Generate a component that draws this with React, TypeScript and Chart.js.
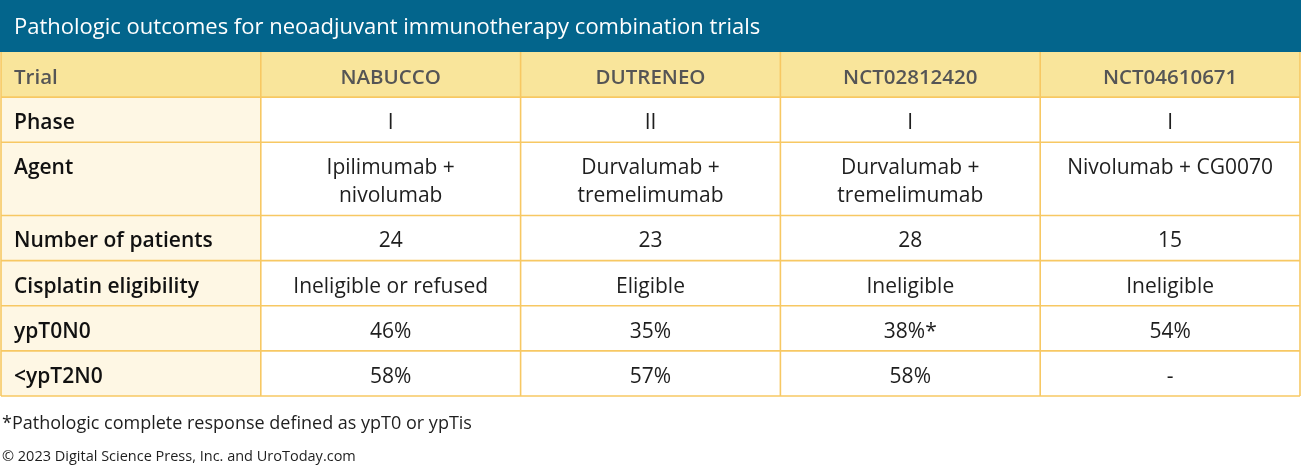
import React, { useEffect, useRef } from "react";
import { Chart, registerables } from "chart.js";

Chart.register(...registerables);

const titleText = "Pathologic outcomes for neoadjuvant immunotherapy combination trials";
const cornerLabel = "Trial";
const trials = ["NABUCCO", "DUTRENEO", "NCT02812420", "NCT04610671"];
const rowLabels = ["Phase", "Agent", "Number of patients", "Cisplatin eligibility", "ypT0N0", "<ypT2N0"];
const phases = ["I", "II", "I", "I"];
const agents = [["Ipilimumab +", "nivolumab"], ["Durvalumab +", "tremelimumab"], ["Durvalumab +", "tremelimumab"], ["Nivolumab + CG0070"]];
const patients = [24, 23, 28, 15];
const cisplatin = ["Ineligible or refused", "Eligible", "Ineligible", "Ineligible"];
const ypT0N0 = ["46%", "35%", "38%*", "54%"];
const ypT2N0 = ["58%", "57%", "58%", "-"];
const footnote = "*Pathologic complete response defined as ypT0 or ypTis";
const copyright = "\u00a9 2023 Digital Science Press, Inc. and UroToday.com";

const FONT = "'Open Sans', 'Noto Sans', sans-serif";

function buildRows(): string[][][] {
  const rows: string[][][] = [];
  rows.push([[cornerLabel], ...trials.map((t) => [t])]);
  rows.push([[rowLabels[0]], ...phases.map((p) => [p])]);
  rows.push([[rowLabels[1]], ...agents]);
  rows.push([[rowLabels[2]], ...patients.map((n) => [String(n)])]);
  rows.push([[rowLabels[3]], ...cisplatin.map((c) => [c])]);
  rows.push([[rowLabels[4]], ...ypT0N0.map((c) => [c])]);
  rows.push([[rowLabels[5]], ...ypT2N0.map((c) => [c])]);
  return rows;
}

const rows = buildRows();
const rowWeights = rows.map((r) => 1 + (Math.max(...r.map((c) => c.length)) - 1) * 0.622);
const rowBounds: number[] = [0];
rowWeights.forEach((w, i) => rowBounds.push(rowBounds[i] + w));
const nCols = trials.length + 1;

const tablePlugin = {
  id: "tableDraw",
  beforeDraw(chart: any) {
    const ctx = chart.ctx as CanvasRenderingContext2D;
    const xs = chart.scales.x;
    const ys = chart.scales.y;
    ctx.save();
    ctx.fillStyle = "#ffffff";
    ctx.fillRect(0, 0, chart.width, chart.height);

    const x0 = xs.getPixelForValue(0);
    const x1 = xs.getPixelForValue(nCols);
    const yTop = ys.getPixelForValue(0);
    const yBot = ys.getPixelForValue(rowBounds[rowBounds.length - 1]);

    // title bar
    ctx.fillStyle = "#03658c";
    ctx.fillRect(0, 0, x1 + 1, yTop);
    ctx.fillStyle = "#ffffff";
    ctx.font = `500 22px ${FONT}`;
    ctx.textBaseline = "middle";
    ctx.textAlign = "left";
    ctx.fillText(titleText, x0 + 13, yTop / 2 + 2);

    // fills
    rows.forEach((row, r) => {
      const ya = ys.getPixelForValue(rowBounds[r]);
      const yb = ys.getPixelForValue(rowBounds[r + 1]);
      if (r === 0) {
        ctx.fillStyle = "#f9e59b";
        ctx.fillRect(x0, ya, x1 - x0, yb - ya);
      } else {
        ctx.fillStyle = "#fef7e4";
        const xa = xs.getPixelForValue(0);
        const xb = xs.getPixelForValue(1);
        ctx.fillRect(xa, ya, xb - xa, yb - ya);
      }
    });

    // grid
    ctx.strokeStyle = "#f7c863";
    ctx.lineWidth = 1.6;
    for (let c = 0; c <= nCols; c++) {
      const x = xs.getPixelForValue(c);
      ctx.beginPath();
      ctx.moveTo(x, yTop);
      ctx.lineTo(x, yBot);
      ctx.stroke();
    }
    for (let r = 1; r < rowBounds.length; r++) {
      const y = ys.getPixelForValue(rowBounds[r]);
      ctx.beginPath();
      ctx.moveTo(x0, y);
      ctx.lineTo(x1, y);
      ctx.stroke();
    }

    // text
    rows.forEach((row, r) => {
      const ya = ys.getPixelForValue(rowBounds[r]);
      row.forEach((lines, c) => {
        if (r === 0) {
          ctx.fillStyle = "#555555";
          ctx.font = `600 20.5px ${FONT}`;
        } else if (c === 0) {
          ctx.fillStyle = "#111111";
          ctx.font = `600 21px ${FONT}`;
        } else {
          ctx.fillStyle = "#1e1e1e";
          ctx.font = `400 21px ${FONT}`;
        }
        const xa = xs.getPixelForValue(c);
        const xb = xs.getPixelForValue(c + 1);
        lines.forEach((line, li) => {
          const y = ya + 26 + li * 28;
          if (c === 0) {
            ctx.textAlign = "left";
            ctx.fillText(line, xa + 13, y);
          } else {
            ctx.textAlign = "center";
            ctx.fillText(line, (xa + xb) / 2, y);
          }
        });
      });
    });

    // footnotes
    ctx.textAlign = "left";
    ctx.fillStyle = "#1e1e1e";
    ctx.font = `400 18px ${FONT}`;
    ctx.fillText(footnote, x0 + 1, yBot + 28);
    ctx.font = `400 14.5px ${FONT}`;
    ctx.fillText(copyright, x0 + 1, yBot + 61);
    ctx.restore();
  },
};

export default function App() {
  const ref = useRef<HTMLCanvasElement | null>(null);
  useEffect(() => {
    document.body.style.margin = "0";
    const canvas = ref.current;
    if (!canvas) return;
    const chart = new Chart(canvas, {
      type: "bar",
      data: { labels: [], datasets: [] },
      options: {
        animation: false,
        responsive: false,
        devicePixelRatio: 1,
        layout: { padding: { top: 52, bottom: 72, left: 1, right: 2 } },
        plugins: { legend: { display: false }, tooltip: { enabled: false }, title: { display: false } },
        scales: {
          x: { type: "linear", min: 0, max: nCols, display: false, offset: false },
          y: { type: "linear", min: 0, max: rowBounds[rowBounds.length - 1], reverse: true, display: false, offset: false },
        },
      },
      plugins: [tablePlugin],
    });
    return () => chart.destroy();
  }, []);
  return (
    <div style={{ width: 1302, height: 468 }}>
      <canvas ref={ref} width={1302} height={468} style={{ display: "block" }} />
    </div>
  );
}
